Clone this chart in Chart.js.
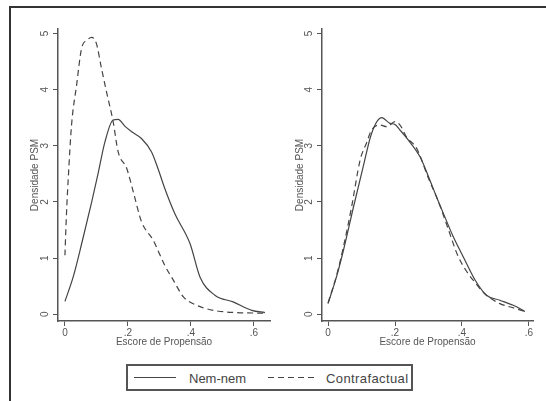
<!DOCTYPE html>
<html>
<head>
<meta charset="utf-8">
<script src="https://cdn.jsdelivr.net/npm/chart.js@4.4.0/dist/chart.umd.min.js"></script>
<style>
  html, body { margin: 0; padding: 0; background: #fff; }
  #page { position: relative; width: 546px; height: 401px; overflow: hidden; }
  #frame { position: absolute; left: 9px; top: 6px; width: 540px; height: 400px;
           border-top: 2px solid #333; border-left: 2px solid #333; }
  canvas { position: absolute; top: 0; }
  #legend { position: absolute; left: 126px; top: 364px; }
</style>
</head>
<body>
<div id="page">
  <div id="frame"></div>
  <canvas id="left" width="280" height="360" style="left:0"></canvas>
  <canvas id="right" width="266" height="360" style="left:280px"></canvas>
  <svg id="legend" width="287" height="27">
    <rect x="1" y="1" width="285" height="25" fill="#fff" stroke="#555" stroke-width="2"></rect>
    <line x1="8" y1="13.5" x2="50" y2="13.5" stroke="#444" stroke-width="1.2"></line>
    <text x="63" y="18.5" font-family="Liberation Sans" font-size="13" fill="#444">Nem-nem</text>
    <line x1="142" y1="13.5" x2="191" y2="13.5" stroke="#444" stroke-width="1.2" stroke-dasharray="6,4"></line>
    <text x="200" y="18.5" font-family="Liberation Sans" font-size="13" letter-spacing="0.4" fill="#444">Contrafactual</text>
  </svg>
</div>
<script>
// tick labels
const xTicks = [0, 0.2, 0.4, 0.6];
const yTicks = [0, 1, 2, 3, 4, 5];

// left panel: before matching
const leftNemX = [0, 0.026, 0.055, 0.085, 0.105, 0.127, 0.153, 0.169, 0.19, 0.212, 0.243, 0.275, 0.295, 0.317, 0.349, 0.397, 0.429, 0.476, 0.534, 0.593, 0.635];
const leftNemY = [0.23, 0.66, 1.3, 2.0, 2.5, 3.07, 3.46, 3.47, 3.35, 3.25, 3.13, 2.89, 2.6, 2.24, 1.79, 1.26, 0.66, 0.34, 0.22, 0.07, 0.03];
const leftConX = [0, 0.005, 0.01, 0.021, 0.037, 0.053, 0.07, 0.085, 0.1, 0.116, 0.132, 0.153, 0.169, 0.196, 0.217, 0.243, 0.28, 0.317, 0.345, 0.376, 0.418, 0.471, 0.545, 0.635];
const leftConY = [1.05, 1.8, 2.36, 3.37, 4.08, 4.74, 4.88, 4.93, 4.82, 4.38, 3.96, 3.43, 2.89, 2.6, 2.18, 1.65, 1.32, 0.87, 0.6, 0.31, 0.16, 0.07, 0.03, 0.02];

// right panel: after matching
const rightNemX = [0, 0.025, 0.046, 0.076, 0.105, 0.13, 0.16, 0.185, 0.2, 0.215, 0.24, 0.275, 0.3, 0.324, 0.349, 0.374, 0.404, 0.439, 0.473, 0.513, 0.553, 0.588];
const rightNemY = [0.19, 0.66, 1.14, 1.91, 2.63, 3.22, 3.5, 3.4, 3.38, 3.28, 3.1, 2.8, 2.45, 2.09, 1.73, 1.38, 1.02, 0.61, 0.34, 0.25, 0.16, 0.05];
const rightConX = [0, 0.025, 0.046, 0.07, 0.096, 0.115, 0.13, 0.155, 0.175, 0.2, 0.215, 0.234, 0.265, 0.3, 0.33, 0.36, 0.387, 0.412, 0.437, 0.467, 0.513, 0.55, 0.588];
const rightConY = [0.2, 0.68, 1.2, 1.9, 2.75, 3.05, 3.28, 3.37, 3.34, 3.43, 3.37, 3.16, 2.95, 2.42, 2.0, 1.5, 1.05, 0.78, 0.58, 0.37, 0.19, 0.12, 0.05];

const lineColor = "#444";
const axisColor = "#555";
const textColor = "#555";
const fontFamily = "'Liberation Sans', Arial, sans-serif";

function pts(xs, ys) {
    return xs.map(function (x, i) { return { x: x, y: ys[i] }; });
}

// Stata draws the y tick labels turned on their side
const yTickLabels = {
    id: "yTickLabels",
    afterDraw(chart) {
        const s = chart.scales.y;
        const ctx = chart.ctx;
        ctx.save();
        ctx.fillStyle = textColor;
        ctx.font = "10px " + fontFamily;
        ctx.textAlign = "center";
        ctx.textBaseline = "middle";
        yTicks.forEach(function (v) {
            ctx.save();
            ctx.translate(s.right - 13, s.getPixelForValue(v));
            ctx.rotate(-Math.PI / 2);
            ctx.fillText(String(v), 0, 0);
            ctx.restore();
        });
        ctx.restore();
    }
};

function makeChart(id, nem, con, xMin, xMax, yWidth, titlePad, padRight) {
    const ctx = document.getElementById(id).getContext("2d");
    return new Chart(ctx, {
        type: "line",
        data: {
            datasets: [{
                label: "Nem-nem",
                data: nem,
                borderColor: lineColor,
                borderWidth: 1.2,
                pointRadius: 0,
                cubicInterpolationMode: "monotone",
                fill: false
            }, {
                label: "Contrafactual",
                data: con,
                borderColor: lineColor,
                borderWidth: 1.2,
                borderDash: [6, 4],
                pointRadius: 0,
                cubicInterpolationMode: "monotone",
                fill: false
            }]
        },
        options: {
            responsive: false,
            animation: false,
            events: [],
            layout: { padding: { left: 0, top: 29, right: padRight, bottom: 0 } },
            plugins: { legend: { display: false }, tooltip: { enabled: false } },
            scales: {
                x: {
                    type: "linear",
                    min: xMin,
                    max: xMax,
                    afterBuildTicks: function (s) { s.ticks = xTicks.map(function (v) { return { value: v }; }); },
                    afterFit: function (s) { s.height = 39; },
                    border: { display: true, color: axisColor, width: 1.5 },
                    grid: { drawOnChartArea: false, drawTicks: true, tickLength: 5, color: axisColor },
                    ticks: {
                        color: textColor,
                        padding: 1,
                        maxRotation: 0,
                        font: { size: 10, family: fontFamily },
                        callback: function (v) { return v === 0 ? "0" : v.toFixed(1).replace(/^0/, ""); }
                    },
                    title: {
                        display: true,
                        text: "Escore de Propensão",
                        color: textColor,
                        font: { size: 10, family: fontFamily },
                        padding: { top: 0, bottom: 12 }
                    }
                },
                y: {
                    min: -0.12,
                    max: 5.08,
                    afterBuildTicks: function (s) { s.ticks = yTicks.map(function (v) { return { value: v }; }); },
                    afterFit: function (s) { s.width = yWidth; },
                    border: { display: true, color: axisColor, width: 1.5 },
                    grid: { drawOnChartArea: false, drawTicks: true, tickLength: 5, color: axisColor },
                    ticks: { display: false },
                    title: {
                        display: true,
                        text: "Densidade PSM",
                        color: textColor,
                        font: { size: 10, family: fontFamily },
                        padding: { top: titlePad, bottom: 0 }
                    }
                }
            }
        },
        plugins: [yTickLabels]
    });
}

makeChart("left", pts(leftNemX, leftNemY), pts(leftConX, leftConY), -0.022, 0.651, 58, 29, 10);
makeChart("right", pts(rightNemX, rightNemY), pts(rightConX, rightConY), -0.018, 0.612, 42, 14, 13);
</script>
</body>
</html>
